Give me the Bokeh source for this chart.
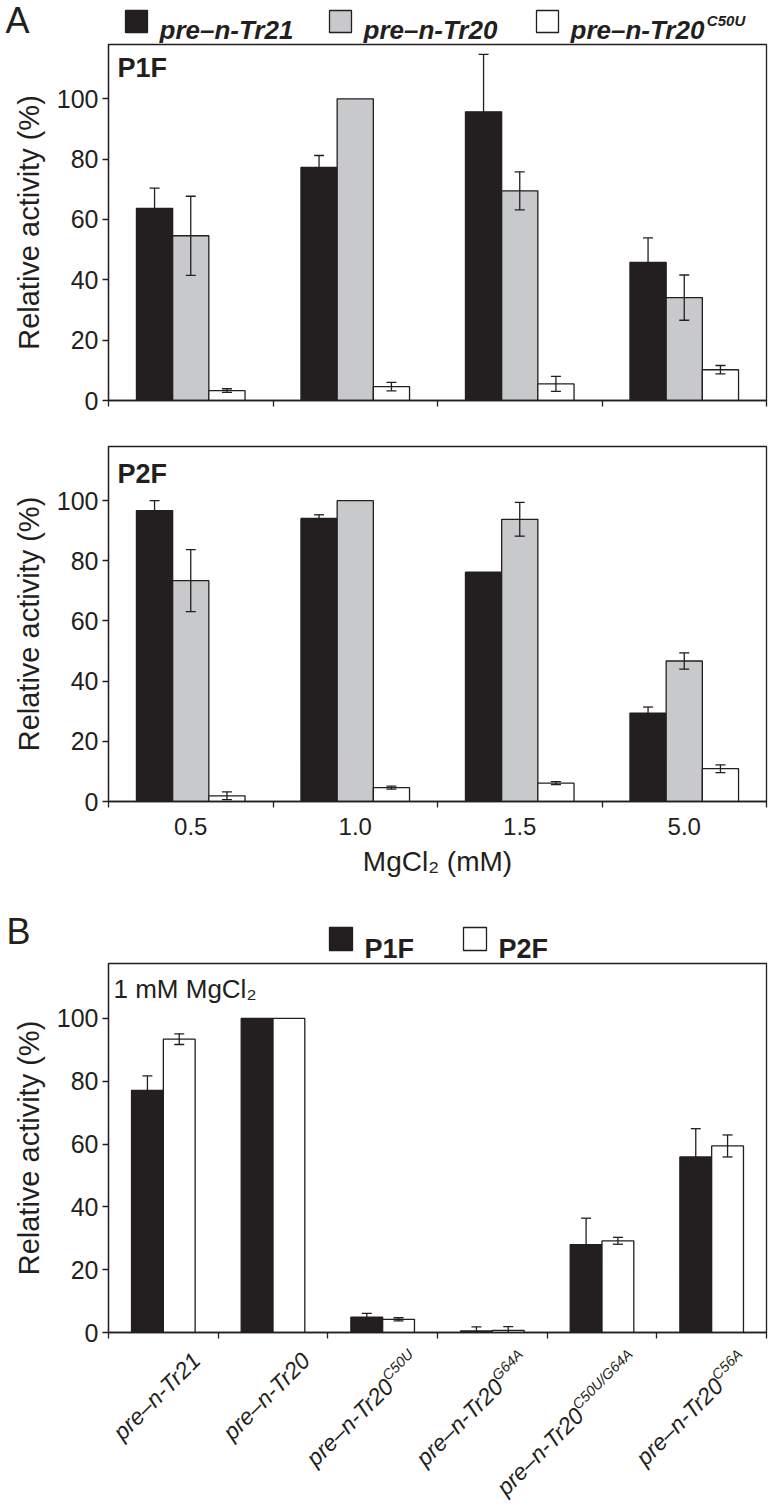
from math import pi, cos, sin
from bokeh.plotting import figure
from bokeh.models import Range1d, FixedTicker, ColumnDataSource, Whisker, TeeHead, Label
from bokeh.layouts import column
from bokeh.embed import file_html
from bokeh.resources import INLINE
from bokeh.core.properties import value

# ---------------- data ----------------
mg_levels = ["0.5", "1.0", "1.5", "5.0"]

p1f_tr21 = [63.7, 77.3, 95.7, 45.8]
p1f_tr21_err = [6.7, 3.9, 19.0, 8.1]
p1f_tr20 = [54.6, 100.0, 69.5, 34.1]
p1f_tr20_err = [13.1, 0.0, 6.3, 7.5]
p1f_c50u = [3.3, 4.6, 5.5, 10.2]
p1f_c50u_err = [0.6, 1.4, 2.5, 1.4]

p2f_tr21 = [96.7, 94.1, 76.2, 29.4]
p2f_tr21_err = [3.3, 1.2, 0.0, 2.0]
p2f_tr20 = [73.4, 100.0, 93.8, 46.7]
p2f_tr20_err = [10.3, 0.0, 5.6, 2.7]
p2f_c50u = [1.9, 4.6, 6.1, 10.9]
p2f_c50u_err = [1.3, 0.5, 0.5, 1.3]

legend_a_names = ["pre\u2013n-Tr21", "pre\u2013n-Tr20", "pre\u2013n-Tr20"]
legend_a_sups = ["", "", "C50U"]

construct_names = ["pre\u2013n-Tr21", "pre\u2013n-Tr20", "pre\u2013n-Tr20",
                   "pre\u2013n-Tr20", "pre\u2013n-Tr20", "pre\u2013n-Tr20"]
construct_sups = ["", "", "C50U", "G64A", "C50U/G64A", "C56A"]
b_p1f = [77.1, 100.0, 4.9, 0.5, 28.0, 55.9]
b_p1f_err = [4.6, 0.0, 1.2, 1.3, 8.4, 9.0]
b_p2f = [93.4, 100.0, 4.2, 0.7, 29.2, 59.4]
b_p2f_err = [1.7, 0.0, 0.5, 1.2, 1.1, 3.5]

y_ticks = [0, 20, 40, 60, 80, 100]

# ---------------- style ----------------
DARK = "#231f20"
GREY = "#c8c9cb"
WHITE = "#ffffff"
FONT = "Liberation Sans"
W = 773
LEFT = 108
RIGHT = 7
LW = 1.3

ARIAL = {'p': 556, 'r': 333, 'e': 556, '\u2013': 556, 'n': 556, '-': 333, 'T': 611,
         '0': 556, '1': 556, '2': 556, '4': 556, '5': 556, '6': 556, 'C': 722,
         'U': 722, 'G': 778, 'A': 667, '/': 278, 'F': 611, 'P': 667}
ARIAL_B = dict(ARIAL, p=611, r=389, n=611, A=722)

try:
    figure(frame_align=False)
    FREE_OK = True
except Exception:
    FREE_OK = False


def text_width(s, size, bold=False):
    tab = ARIAL_B if bold else ARIAL
    return sum(tab.get(c, 556) for c in s) / 1000.0 * size


def blank_fig(h, x_range=None, free=False):
    # data units = pixels of the figure (x from its left edge, y from its top)
    free = free and FREE_OK
    if x_range is None:
        x_range = Range1d(0, W) if free else Range1d(LEFT, W - RIGHT)
    kw = dict(frame_align=False) if free else {}
    p = figure(width=W, height=h, x_range=x_range,
               y_range=Range1d(h, 0), output_backend="svg", toolbar_location=None,
               x_axis_location=None, y_axis_location=None,
               min_border_left=0 if free else LEFT,
               min_border_right=0 if free else RIGHT,
               min_border_top=0, min_border_bottom=0, **kw)
    p.xgrid.visible = False
    p.ygrid.visible = False
    p.outline_line_color = None
    p.background_fill_color = WHITE
    p.border_fill_color = WHITE
    return p


def bar_fig(ncat, ymax, height, top, bottom, tick_labels, xlabel):
    p = figure(width=W, height=height, x_range=Range1d(0, ncat), y_range=Range1d(0, ymax),
               output_backend="svg", toolbar_location=None,
               min_border_left=LEFT, min_border_right=RIGHT,
               min_border_top=top, min_border_bottom=bottom)
    p.xgrid.visible = False
    p.ygrid.visible = False
    p.outline_line_color = DARK
    p.outline_line_width = LW
    p.outline_line_alpha = 1.0
    p.background_fill_color = WHITE
    p.border_fill_color = WHITE

    yax = p.yaxis[0]
    yax.ticker = FixedTicker(ticks=y_ticks)
    yax.major_tick_in = 0
    yax.major_tick_out = 6
    yax.minor_tick_out = 0
    yax.minor_tick_in = 0
    yax.axis_line_color = DARK
    yax.axis_line_width = LW
    yax.major_tick_line_color = DARK
    yax.major_tick_line_width = LW
    yax.major_label_text_font = FONT
    yax.major_label_text_font_size = "25px"
    yax.major_label_text_color = DARK
    yax.major_label_standoff = 4
    yax.axis_label = "Relative activity (%)"
    yax.axis_label_text_font = FONT
    yax.axis_label_text_font_size = "29px"
    yax.axis_label_text_font_style = "normal"
    yax.axis_label_text_color = DARK
    yax.axis_label_standoff = 9

    xax = p.xaxis[0]
    centers = [i + 0.5 for i in range(ncat)]
    bounds = [float(i) for i in range(ncat + 1)]
    xax.major_tick_in = 0
    xax.major_tick_out = 0
    xax.minor_tick_in = 0
    xax.minor_tick_out = 6
    xax.minor_tick_line_color = DARK
    xax.minor_tick_line_width = LW
    xax.axis_line_color = DARK
    xax.axis_line_width = LW
    xax.major_label_text_font = FONT
    xax.major_label_text_color = DARK
    if tick_labels is None:
        xax.ticker = FixedTicker(ticks=[], minor_ticks=bounds)
    else:
        xax.ticker = FixedTicker(ticks=centers, minor_ticks=bounds)
        xax.major_label_overrides = {c: lab for c, lab in zip(centers, tick_labels)}
        xax.major_label_text_font_size = "24px"
        xax.major_label_standoff = 10
    if xlabel:
        xax.axis_label = xlabel
        xax.axis_label_text_font = FONT
        xax.axis_label_text_font_size = "28px"
        xax.axis_label_text_font_style = "normal"
        xax.axis_label_text_color = DARK
        xax.axis_label_standoff = 8
    return p


def add_bars(p, groups, width):
    n = len(groups)
    for k, (vals, errs, color) in enumerate(groups):
        off = (k - (n - 1) / 2.0) * width
        xs = [i + 0.5 + off for i in range(len(vals))]
        p.vbar(x=xs, top=vals, bottom=0, width=width, fill_color=color,
               line_color=DARK, line_width=LW)
        ex = [x for x, e in zip(xs, errs) if e > 0]
        lo = [v - e for v, e in zip(vals, errs) if e > 0]
        hi = [v + e for v, e in zip(vals, errs) if e > 0]
        src = ColumnDataSource(dict(x=ex, lower=lo, upper=hi))
        wk = Whisker(source=src, base="x", lower="lower", upper="upper",
                     line_color=DARK, line_width=LW, level="annotation",
                     upper_head=TeeHead(size=10, line_color=DARK, line_width=LW),
                     lower_head=TeeHead(size=10, line_color=DARK, line_width=LW))
        p.add_layout(wk)


def add_panel_label(p, text, ymax, bold, size, dx, dy):
    p.add_layout(Label(x=0, y=ymax, x_offset=dx, y_offset=-dy, text=text,
                       text_baseline="top", text_align="left",
                       text_font=FONT, text_font_size=size,
                       text_font_style="bold" if bold else "normal",
                       text_color=DARK))


def legend_row(p, items, rect_w, rect_top, rect_h, base_y, size, style, sup_size):
    bold = "bold" in style
    for (x0, name, sup, fill) in items:
        p.quad(left=[x0], right=[x0 + rect_w], top=[rect_top], bottom=[rect_top + rect_h],
               fill_color=fill, line_color=DARK, line_width=LW)
        tx = x0 + rect_w + 12
        p.text(x=[tx], y=[base_y], text=[name], text_font=value(FONT),
               text_font_size=value(size), text_font_style=style, text_color=DARK,
               text_align="left", text_baseline="alphabetic")
        if sup:
            sx = tx + text_width(name, float(size[:-2]), bold) + 2
            p.text(x=[sx], y=[base_y - 9], text=[sup], text_font=value(FONT),
                   text_font_size=value(sup_size), text_font_style=style, text_color=DARK,
                   text_align="left", text_baseline="alphabetic")


def panel_letter(p, text, x, mid_y, size):
    p.text(x=[x], y=[mid_y], text=[text], text_font=value(FONT),
           text_font_size=value(size), text_color=DARK,
           text_align="left", text_baseline="middle")


# ---------------- Panel A legend row ----------------
la = blank_fig(43, free=True)
panel_letter(la, "A", 5, 20, "36px")
legend_row(la, [(125, legend_a_names[0], legend_a_sups[0], DARK),
                (329, legend_a_names[1], legend_a_sups[1], GREY),
                (536, legend_a_names[2], legend_a_sups[2], WHITE)],
           22, 10, 22, 29, "26px", "bold italic", "15px")

# ---------------- P1F ----------------
YMAX_A = 118
p1 = bar_fig(4, YMAX_A, 386, 1, 29, None, None)
add_bars(p1, [(p1f_tr21, p1f_tr21_err, DARK), (p1f_tr20, p1f_tr20_err, GREY),
              (p1f_c50u, p1f_c50u_err, WHITE)], 0.22)
add_panel_label(p1, "P1F", YMAX_A, True, "27px", 9, 8)

# ---------------- P2F ----------------
p2 = bar_fig(4, YMAX_A, 466, 17, 94, mg_levels, "MgCl\u2082 (mM)")
add_bars(p2, [(p2f_tr21, p2f_tr21_err, DARK), (p2f_tr20, p2f_tr20_err, GREY),
              (p2f_c50u, p2f_c50u_err, WHITE)], 0.22)
add_panel_label(p2, "P2F", YMAX_A, True, "27px", 9, 12)

# ---------------- Panel B legend row ----------------
lb = blank_fig(67, free=True)
panel_letter(lb, "B", 6, 36, "36px")
legend_row(lb, [(329, "P1F", "", DARK), (463, "P2F", "", WHITE)],
           23, 32, 23, 53, "27px", "bold", "15px")

# ---------------- Panel B ----------------
YMAX_B = 117.5
pb = bar_fig(6, YMAX_B, 384, 1, 14, None, None)
add_bars(pb, [(b_p1f, b_p1f_err, DARK), (b_p2f, b_p2f_err, WHITE)], 0.29)
add_panel_label(pb, "1 mM MgCl\u2082", YMAX_B, False, "26px", 5, 10)

# ---------------- Panel B rotated category labels ----------------
lc = blank_fig(159, x_range=pb.x_range)
ang = pi / 4
u = (cos(ang), -sin(ang))
v = (-sin(ang), -cos(ang))
ANCHOR_DX, ANCHOR_Y, MAIN_FS, SUP_FS, RAISE = 33, 10, 23, 14.5, 7
mx, my, mdx, mt = [], [], [], []
sx_, sy_, sdx, st = [], [], [], []
for i, (name, sup) in enumerate(zip(construct_names, construct_sups)):
    ws = text_width(sup, SUP_FS) if sup else 0.0
    ex = ANCHOR_DX - ws * u[0]
    ey = ANCHOR_Y - ws * u[1]
    mx.append(i + 0.5); my.append(ey); mdx.append(ex); mt.append(name)
    if sup:
        sx_.append(i + 0.5); sy_.append(ey + RAISE * v[1]); sdx.append(ex + RAISE * v[0]); st.append(sup)
lc.text(x="x", y="y", x_offset="dx", text="t",
        source=ColumnDataSource(dict(x=mx, y=my, dx=mdx, t=mt)),
        angle=ang, text_align="right", text_baseline="alphabetic",
        text_font=value(FONT), text_font_size=value("%gpx" % MAIN_FS),
        text_font_style="italic", text_color=DARK)
lc.text(x="x", y="y", x_offset="dx", text="t",
        source=ColumnDataSource(dict(x=sx_, y=sy_, dx=sdx, t=st)),
        angle=ang, text_align="left", text_baseline="alphabetic",
        text_font=value(FONT), text_font_size=value("%gpx" % SUP_FS),
        text_font_style="italic", text_color=DARK)

layout = column(la, p1, p2, lb, pb, lc, spacing=0)
open("out.html", "w").write(file_html(layout, INLINE))
